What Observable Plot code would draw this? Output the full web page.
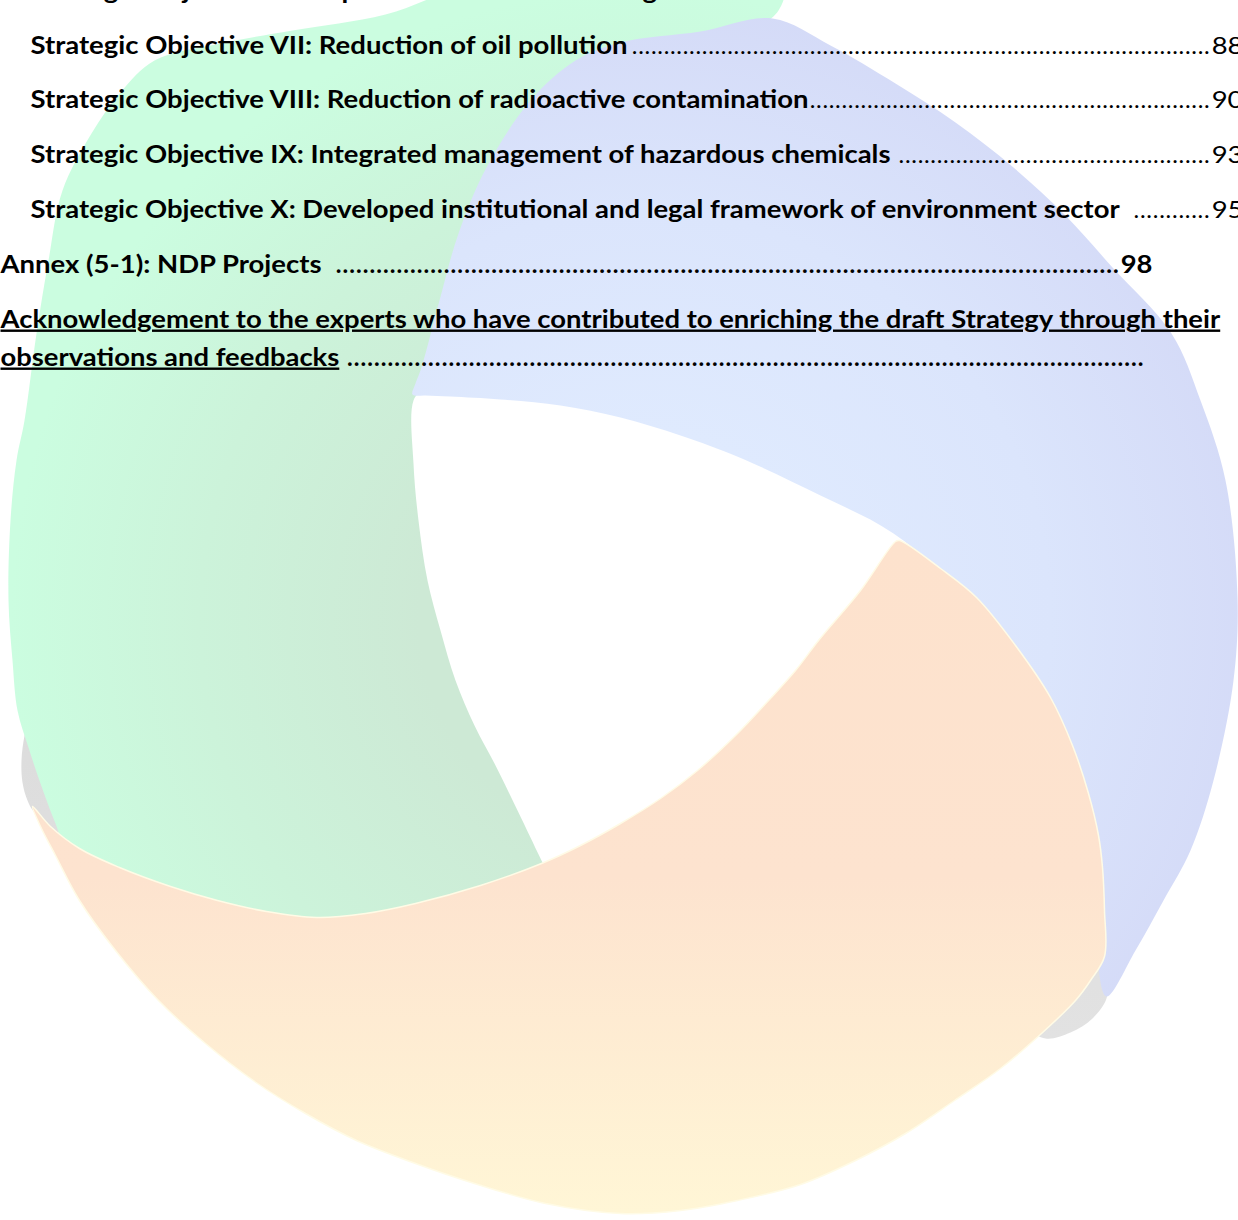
<!DOCTYPE html>
<html>
<head>
<meta charset="utf-8">
<script src="https://cdn.jsdelivr.net/npm/d3@7"></script>
<script src="https://cdn.jsdelivr.net/npm/@observablehq/plot@0.6"></script>
<style>
html, body { margin: 0; padding: 0; background: #fff; overflow: hidden; }
#page { width: 1238px; height: 1220px; position: relative; }
#page svg { display: block; }
</style>
</head>
<body>
<div id="page"></div>
<script>
// ---------------- data ----------------
const tocTitles = [
  "Strategic Objective VI: Improved solid waste management",
  "Strategic Objective VII: Reduction of oil pollution",
  "Strategic Objective VIII: Reduction of radioactive contamination",
  "Strategic Objective IX: Integrated management of hazardous chemicals ",
  "Strategic Objective X: Developed institutional and legal framework of environment sector ",
  "Annex (5-1): NDP Projects ",
  "Acknowledgement to the experts who have contributed to enriching the draft Strategy through their\nobservations and feedbacks "
];
const tocPages = ["86", "88", "90", "93", "95", "98", ""];
const tocLevels = [1, 1, 1, 1, 1, 0, 0];
const tocKinds = ["objective", "objective", "objective", "objective", "objective", "annex", "acknowledgement"];

// watermark logo outlines, page pixel units
const logoShadowLeft = [[30,712],[24,735],[21,760],[22,782],[27,800],[34,812],[60,832],[70,770],[50,715]];
const logoShadowRight = [[1100,945],[1107,975],[1106,998],[1092,1018],[1070,1032],[1045,1038],[1030,1028],[1060,990],[1090,950]];
const logoGreen = [
  [470,-14],[620,-16],[782,-14],[778,10],[740,36],[680,52],[620,76],[560,120],[505,190],[470,260],[445,330],[425,385],
  [413,400],[413,463],[418,520],[427,580],[440,630],[455,680],[474,725],[494,763],[518,812],[541,860],[575,930],
  [420,960],[250,960],[90,905],
  [55,823],[40,783],[28,747],[17,710],[12,660],[8,600],[10,520],[16,460],[24,420],[36,333],[48,260],[62,190],[91,133],[120,92],[154,60],[220,43],[292,30],[385,14]
];
const logoBlue = [
  [412,394],[415,383],[421,367],[439,300],[458,233],[486,167],[530,100],[575,60],[620,42],[700,31],[772,18],
  [830,45],[895,83],[955,122],[1013,167],[1065,215],[1112,267],[1171,333],[1200,400],[1225,480],[1237,597],[1233,680],[1213,780],[1190,850],[1163,900],[1135,950],[1106,996],
  [1097,960],[1094,870],[1080,790],[1045,700],[970,600],[893,533],
  [820,495],[739,457],[680,435],[620,417],[560,405],[500,399],[450,396],[425,395]
];
const logoOrange = [
  [32,806],[50,826],[79,848],[119,867],[170,886],[217,900],[266,911],[316,917],[365,913],[415,903],[480,885],[541,863],[580,845],[620,823],[660,798],[697,770],[735,735],[768,700],[795,670],[818,640],[860,590],[895,541],
  [899,540],[940,568],[976,597],[1015,645],[1050,697],[1072,745],[1088,793],[1098,835],[1102,867],[1104,910],[1104,956],
  [1090,980],[1075,1000],[1041,1033],[1000,1068],[954,1100],[905,1133],[855,1160],[800,1184],[737,1200],[680,1210],[620,1213],[545,1203],[474,1183],[415,1163],[356,1140],[305,1113],[257,1083],[205,1043],[158,1000],[115,950],[79,900],[55,855],[40,826]
];

// ---------------- layout ----------------
const W = 1238, H = 1220;
const FONT = "Lato";
const FS = 24;
const firstBaseline = 53, rowGap = 54.8, wrapGap = 38;
const indent = [0, 30];
const tabStop = [1152, 1243];
const sampleTitleWidth = 597; // width of the row VII title in the reference face

const ctx = document.createElement("canvas").getContext("2d");
function textWidth(s, weight) { ctx.font = `${weight} ${FS}px ${FONT}`; return ctx.measureText(s).width; }
const k = sampleTitleWidth / textWidth(tocTitles[1], "bold");

const titleLines = [], leaders = [], pages = [];
tocTitles.forEach((title, i) => {
  const level = tocLevels[i], kind = tocKinds[i];
  const base = firstBaseline + (i - 1) * rowGap;
  const parts = title.split("\n");
  parts.forEach((p, j) => {
    const y = base + j * wrapGap;
    const x = indent[level];
    const txt = p.trimEnd();
    titleLines.push({x, y, text: txt, len: textWidth(txt, "bold") * k, underline: kind === "acknowledgement"});
    if (j === parts.length - 1) {
      const start = x + textWidth(p, "bold") * k + 1;
      const bold = kind !== "objective";
      const weight = bold ? "bold" : "normal";
      let end;
      if (tocPages[i]) {
        const pw = textWidth(tocPages[i], weight) * k;
        pages.push({x: tabStop[level] - pw, y, text: tocPages[i], len: pw, bold});
        end = tabStop[level] - pw - 2;
      } else {
        end = tabStop[level] - 9;
      }
      const pitch = bold ? 6.75 : 6.35;
      const n = Math.floor((end - start) / pitch);
      leaders.push({x: end - n * pitch, y, text: ".".repeat(n), len: n * pitch, bold});
    }
  });
});
const leadersReg = leaders.filter(d => !d.bold), leadersBold = leaders.filter(d => d.bold);
const pagesReg = pages.filter(d => !d.bold), pagesBold = pages.filter(d => d.bold);

const shape = (pts, fill, extra = {}) =>
  Plot.line(pts, {x: d => d[0], y: d => d[1], fill, stroke: "none", curve: "catmull-rom-closed", ...extra});

const textOpts = (weight) => ({
  x: "x", y: "y", text: "text", fontFamily: FONT, fontSize: FS, fontWeight: weight,
  textAnchor: "start", lineAnchor: "bottom", fill: "#000"
});

const svg = Plot.plot({
  width: W, height: H, margin: 0,
  x: {domain: [0, W], range: [0, W], axis: null},
  y: {domain: [0, H], range: [0, H], axis: null},
  style: {background: "transparent"},
  marks: [
    shape(logoShadowLeft, "url(#gGray)"),
    shape(logoShadowRight, "url(#gGray)"),
    shape(logoGreen, "url(#gGreen)"),
    shape(logoBlue, "url(#gBlue)"),
    shape(logoOrange, "url(#gOrange)", {stroke: "#fffbe6", strokeWidth: 1.5}),
    Plot.text(titleLines, textOpts("bold")),
    Plot.text(leadersReg, textOpts("normal")),
    Plot.text(leadersBold, textOpts("bold")),
    Plot.text(pagesReg, textOpts("normal")),
    Plot.text(pagesBold, textOpts("bold"))
  ]
});

// gradients
const defs = d3.create("svg:defs");
function radial(id, cx, cy, r, stops) {
  const g = defs.append("radialGradient").attr("id", id).attr("gradientUnits", "userSpaceOnUse")
    .attr("cx", cx).attr("cy", cy).attr("r", r);
  stops.forEach(([o, c]) => g.append("stop").attr("offset", o).attr("stop-color", c));
}
function linear(id, x1, y1, x2, y2, stops) {
  const g = defs.append("linearGradient").attr("id", id).attr("gradientUnits", "userSpaceOnUse")
    .attr("x1", x1).attr("y1", y1).attr("x2", x2).attr("y2", y2);
  stops.forEach(([o, c]) => g.append("stop").attr("offset", o).attr("stop-color", c));
}
radial("gGreen", 640, 620, 630, [[0.35, "#cde9d5"], [0.7, "#ccf3da"], [1, "#cbfde0"]]);
radial("gBlue", 640, 620, 630, [[0.3, "#dfeafe"], [0.65, "#dbe5fc"], [1, "#d4daf7"]]);
linear("gOrange", 0, 540, 0, 1213, [[0, "#fde2cd"], [0.5, "#fde3cf"], [1, "#fff6d6"]]);
linear("gGray", 0, 700, 0, 1040, [[0, "#dcdcdc"], [1, "#e2e2e2"]]);
svg.insertBefore(defs.node(), svg.firstChild);

// text fitting (text elements come in mark order)
const fitted = [
  ...titleLines.map(d => ({...d, adjust: "spacingAndGlyphs"})),
  ...leadersReg.map(d => ({...d, adjust: "spacing"})),
  ...leadersBold.map(d => ({...d, adjust: "spacing"})),
  ...pagesReg.map(d => ({...d, adjust: "spacingAndGlyphs"})),
  ...pagesBold.map(d => ({...d, adjust: "spacingAndGlyphs"}))
];
svg.querySelectorAll("text").forEach((el, idx) => {
  const d = fitted[idx];
  if (!d) return;
  el.setAttribute("textLength", d.len);
  el.setAttribute("lengthAdjust", d.adjust);
  if (d.underline) el.style.textDecoration = "underline";
});

document.getElementById("page").append(svg);
</script>
</body>
</html>
